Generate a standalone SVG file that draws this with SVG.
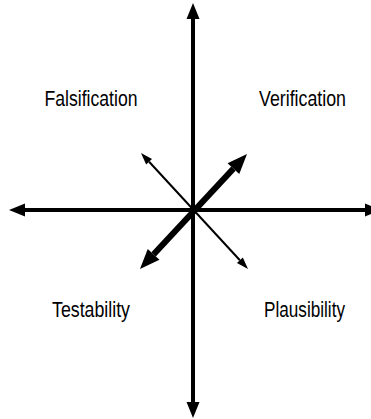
<svg xmlns="http://www.w3.org/2000/svg" width="371" height="419" viewBox="0 0 371 419">
  <style>
    .lbl { font-family: "Liberation Sans", Arial, sans-serif; font-size: 22px; fill: #000; }
    .axis { stroke: #000; stroke-width: 4; fill: none; }
    .thin { stroke: #000; stroke-width: 2; fill: none; }
    .thick { stroke: #000; stroke-width: 6; fill: none; }
  </style>
  <defs>
    <marker id="headAxis" markerUnits="userSpaceOnUse" markerWidth="17" markerHeight="14" refX="0" refY="6.5" orient="auto-start-reverse" overflow="visible">
      <path d="M0,0 L16,6.5 L0,13 Z" fill="#000"/>
    </marker>
    <marker id="headThin" markerUnits="userSpaceOnUse" markerWidth="13" markerHeight="9" refX="0" refY="4" orient="auto-start-reverse" overflow="visible">
      <path d="M0,0 L12,4 L0,8 Z" fill="#000"/>
    </marker>
    <marker id="headThick" markerUnits="userSpaceOnUse" markerWidth="21" markerHeight="17" refX="0" refY="8" orient="auto-start-reverse" overflow="visible">
      <path d="M0,0 L20,8 L0,16 Z" fill="#000"/>
    </marker>
  </defs>
  <rect width="371" height="419" fill="#fff"/>
  <g id="connectors">
    <line class="axis" x1="193" y1="19" x2="193" y2="402" marker-start="url(#headAxis)" marker-end="url(#headAxis)"/>
    <line class="axis" x1="25" y1="210" x2="365" y2="210" marker-start="url(#headAxis)" marker-end="url(#headAxis)"/>
    <line class="thin" x1="149.1" y1="161.8" x2="239.9" y2="260.2" marker-start="url(#headThin)" marker-end="url(#headThin)"/>
    <line class="thick" x1="233.4" y1="168.6" x2="153.6" y2="254.4" marker-start="url(#headThick)" marker-end="url(#headThick)"/>
  </g>
  <g id="falsification">
    <text class="lbl" x="44.5" y="105.5" textLength="93" lengthAdjust="spacingAndGlyphs">Falsification</text>
  </g>
  <g id="verification">
    <text class="lbl" x="259" y="105.5" textLength="87" lengthAdjust="spacingAndGlyphs">Verification</text>
  </g>
  <g id="testability">
    <text class="lbl" x="52" y="317" textLength="78" lengthAdjust="spacingAndGlyphs">Testability</text>
  </g>
  <g id="plausibility">
    <text class="lbl" x="264" y="317" textLength="81" lengthAdjust="spacingAndGlyphs">Plausibility</text>
  </g>
</svg>
